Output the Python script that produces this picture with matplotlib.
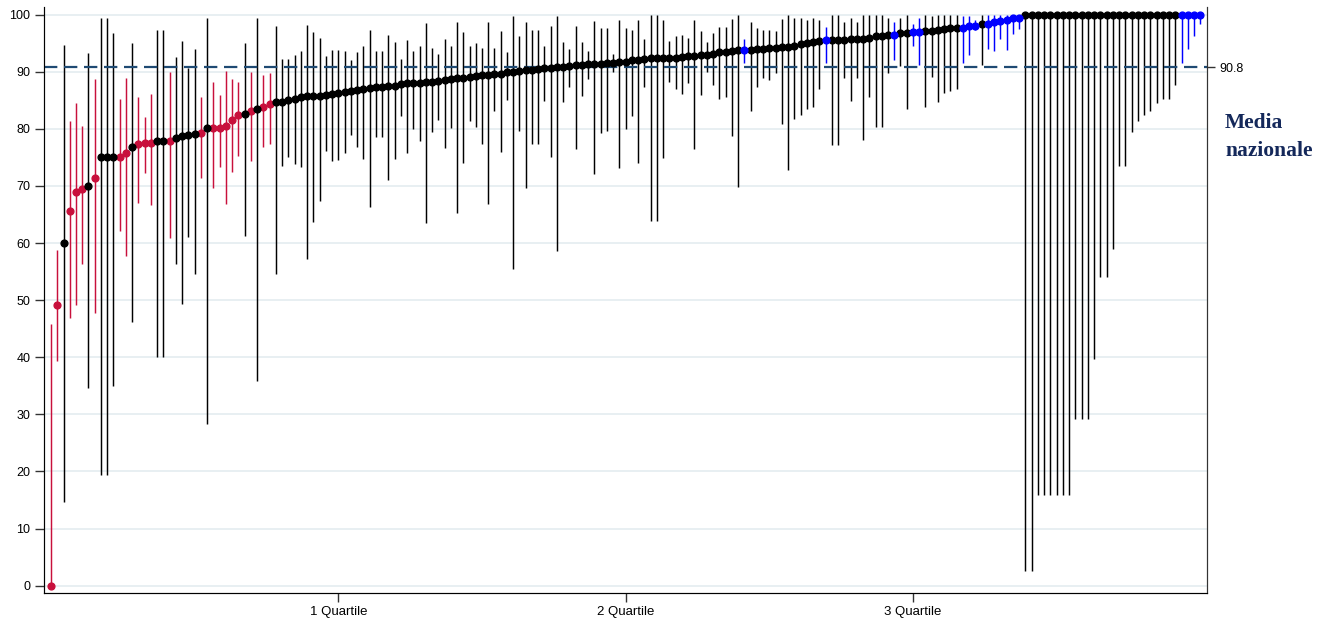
import matplotlib
matplotlib.use("Agg")
import matplotlib.pyplot as plt
import numpy as np

# valore della struttura e intervallo (estremi inferiore / superiore)
values = [
    0, 49.1, 60, 65.6, 68.9, 69.4, 70, 71.4, 75.1, 75.1, 75.1, 75.1, 75.7, 76.9, 77.3, 77.5,
    77.5, 77.8, 77.8, 77.8, 78.4, 78.8, 79.0, 79.1, 79.2, 80.1, 80.1, 80.2, 80.5, 81.6, 82.4,
    82.6, 83.1, 83.4, 83.9, 84.4, 84.7, 84.7, 85.1, 85.3, 85.5, 85.8, 85.8, 85.8, 86.0, 86.1,
    86.3, 86.5, 86.6, 86.8, 86.9, 87.1, 87.3, 87.3, 87.5, 87.5, 87.8, 88.0, 88.0, 88.1, 88.3,
    88.3, 88.4, 88.5, 88.7, 88.9, 89.0, 89.1, 89.3, 89.4, 89.5, 89.6, 89.7, 89.9, 90.0, 90.2,
    90.3, 90.4, 90.5, 90.6, 90.7, 90.9, 90.9, 91.1, 91.2, 91.2, 91.3, 91.4, 91.4, 91.5, 91.6, 91.7,
    91.8, 92.0, 92.1, 92.2, 92.4, 92.4, 92.4, 92.4, 92.5, 92.6, 92.8, 92.8, 92.9, 93.0, 93.2,
    93.4, 93.5, 93.6, 93.8, 93.8, 93.9, 94.0, 94.0, 94.1, 94.2, 94.3, 94.4, 94.6, 94.8, 95.1,
    95.3, 95.4, 95.5, 95.6, 95.6, 95.6, 95.7, 95.8, 95.8, 96.0, 96.2, 96.2, 96.4, 96.5, 96.8,
    96.8, 97.0, 97.0, 97.1, 97.2, 97.3, 97.5, 97.6, 97.7, 97.7, 98.1, 98.1, 98.3, 98.4, 98.8,
    98.9, 99.0, 99.4, 99.5,
    100, 100, 100, 100, 100, 100, 100, 100, 100, 100, 100, 100, 100, 100, 100, 100, 100, 100,
    100, 100, 100, 100, 100, 100, 100,
    100, 100, 100, 100,
]
upper = [
    45.9, 58.8, 94.7, 81.4, 84.6, 80.5, 93.3, 88.7, 99.5, 99.5, 96.8, 85.3, 88.9, 95.0, 85.5, 82.0,
    86.1, 97.3, 97.3, 89.9, 92.6, 95.4, 90.7, 94.0, 85.5, 99.5, 88.3, 85.9, 90.2, 88.7, 88.2,
    95.0, 89.9, 99.5, 89.5, 89.8, 98.1, 92.3, 92.3, 93.0, 93.6, 98.2, 96.9, 95.9, 92.8, 93.8,
    93.8, 93.6, 92.0, 93.4, 94.5, 97.3, 93.6, 93.6, 96.5, 95.3, 92.2, 95.5, 93.7, 94.6, 98.5,
    94.2, 93.2, 95.7, 94.5, 98.7, 96.9, 94.5, 95.0, 94.1, 98.7, 94.2, 97.1, 93.4, 99.7, 96.2,
    98.8, 97.4, 97.4, 94.6, 98.0, 99.7, 95.2, 94.0, 98.1, 95.2, 93.6, 98.9, 97.7, 97.7, 93.2, 99.0,
    97.7, 97.4, 99.1, 95.7, 99.9, 99.9, 99.1, 95.4, 96.2, 96.5, 96.0, 99.1, 97.1, 95.2, 96.8,
    97.8, 97.9, 99.2, 99.9, 95.8, 98.7, 97.7, 97.3, 97.4, 97.1, 99.3, 99.9, 99.4, 99.4, 99.1,
    99.4, 99.0, 97.9, 99.9, 99.9, 98.7, 99.5, 98.7, 99.9, 99.9, 99.9, 99.9, 99.4, 98.7, 99.4,
    99.9, 98.3, 99.4, 99.9, 99.7, 99.9, 99.9, 99.9, 99.9, 99.7, 99.7, 99.1, 99.9, 99.9, 99.9,
    100, 100, 100, 100,
    100, 100, 100, 100, 100, 100, 100, 100, 100, 100, 100, 100, 100, 100, 100, 100, 100, 100,
    100, 100, 100, 100, 100, 100, 100,
    100, 100, 100, 100,
]
lower = [
    0, 39.3, 14.7, 46.8, 49.1, 56.4, 34.7, 47.8, 19.4, 19.4, 34.9, 62.1, 57.8, 46.2, 67.1, 72.3,
    66.7, 40.0, 40.0, 60.9, 56.3, 49.3, 61.1, 54.5, 71.4, 28.4, 69.6, 73.4, 66.9, 72.5, 75.3,
    61.2, 74.4, 35.9, 76.9, 77.4, 54.6, 73.5, 75.0, 73.9, 73.4, 57.2, 63.7, 67.4, 76.1, 74.3,
    74.6, 75.7, 78.9, 76.9, 74.7, 66.4, 78.5, 78.5, 71.0, 74.8, 82.2, 75.7, 80.0, 77.9, 63.5,
    79.5, 81.6, 76.6, 80.1, 65.3, 74.0, 81.4, 80.4, 77.3, 66.9, 83.1, 75.9, 85.1, 55.5, 79.6,
    69.6, 77.3, 77.3, 84.9, 75.0, 58.7, 84.7, 87.4, 76.4, 85.7, 88.7, 72.1, 79.2, 79.7, 89.9, 73.1,
    80.0, 82.2, 74.0, 87.3, 63.9, 63.9, 74.9, 88.2, 86.9, 86.1, 88.0, 76.5, 85.9, 90.0, 87.6,
    85.3, 85.5, 78.7, 69.8, 91.6, 83.2, 87.4, 88.9, 88.6, 89.8, 80.9, 72.8, 81.8, 82.4, 83.5,
    83.8, 86.9, 91.5, 77.2, 77.2, 88.9, 84.8, 88.9, 78.1, 85.5, 80.4, 80.4, 89.8, 92.0, 91.0,
    83.4, 94.6, 91.2, 83.9, 89.1, 84.7, 86.2, 86.6, 86.9, 91.5, 93.0, 97.4, 91.2, 94.0, 93.6,
    95.8, 93.8, 96.6, 97.5,
    2.5, 2.5, 15.8, 15.8, 15.8, 15.8, 15.8, 15.8, 29.2, 29.2, 29.2, 39.7, 54.1, 54.1, 59.0,
    73.5, 73.5, 79.4, 81.4, 82.4, 83.2, 84.6, 85.3, 85.3, 87.7,
    91.6, 94.0, 96.3, 98.4,
]
# L = sotto la media, N = non diverso, H = sopra la media
group = list(
    "LLNLLLNLNNNLLNLLLNNLNNNNLNLLLLL"
    "NLNLLN" + "N" * 24
    + "N" * 31
    + "N" * 19 + "H" + "N" * 10
    + "NNH" + "N" * 10 + "H" + "NN" + "HH" + "N" * 6 + "HHH" + "N" + "H" * 6
    + "N" * 25
    + "HHHH"
)
media_nazionale = 90.8
quartile_labels = ["1 Quartile", "2 Quartile", "3 Quartile"]

values = np.array(values)
upper = np.array(upper)
lower = np.array(lower)
group = np.array(group)
n = len(values)
x = np.arange(1, n + 1)
quartile_pos = [int(np.ceil(n * q)) for q in (0.25, 0.5, 0.75)]

plt.rcParams["font.family"] = ["Liberation Sans", "DejaVu Sans"]

col = {"L": "#C8103C", "N": "black", "H": "#0000FF"}

fig = plt.figure(figsize=(13.27, 6.23), dpi=100)
ax = fig.add_axes([43.7 / 1327, 30 / 623, (1207 - 43.7) / 1327, (593 - 6.7) / 623])

for y in range(0, 101, 10):
    ax.axhline(y, color="#E6EEF1", lw=1.3, zorder=0)

for g, c in col.items():
    m = group == g
    ax.vlines(x[m], lower[m], upper[m], color=c, lw=1.05, zorder=2)

ax.axhline(media_nazionale, color="#1F4A73", lw=1.6, dashes=(6, 3), zorder=3)

for g, c in col.items():
    m = group == g
    ax.plot(x[m], values[m], "o", color=c, ms=4.9, mec=c, zorder=4)

ax.set_xlim(-0.17, n + 1.07)
ax.set_ylim(-1.28, 101.4)
ax.set_yticks(range(0, 101, 10))
ax.set_xticks(quartile_pos)
ax.set_xticklabels(quartile_labels)
ax.tick_params(axis="both", labelsize=9, length=6.5, width=1, color="#333333", pad=3)
ax.tick_params(axis="x", labelsize=9.5)
for s in ["left", "bottom", "right"]:
    ax.spines[s].set_color("#333333")
ax.spines["top"].set_visible(False)

ax2 = ax.twinx()
ax2.set_ylim(ax.get_ylim())
ax2.set_yticks([media_nazionale])
ax2.set_yticklabels([f"{media_nazionale}"])
ax2.tick_params(axis="y", labelsize=9, length=6, width=1, color="#333333", pad=3)
ax2.spines["top"].set_visible(False)
ax2.spines["right"].set_color("#333333")

fig.text(1225 / 1327, 1 - 156 / 623, "Media\nnazionale", family="Liberation Serif",
         fontweight="bold", fontsize=15.5, color="#14285A", va="baseline", ha="left",
         linespacing=1.55)

fig.savefig("out.png", dpi=100)
